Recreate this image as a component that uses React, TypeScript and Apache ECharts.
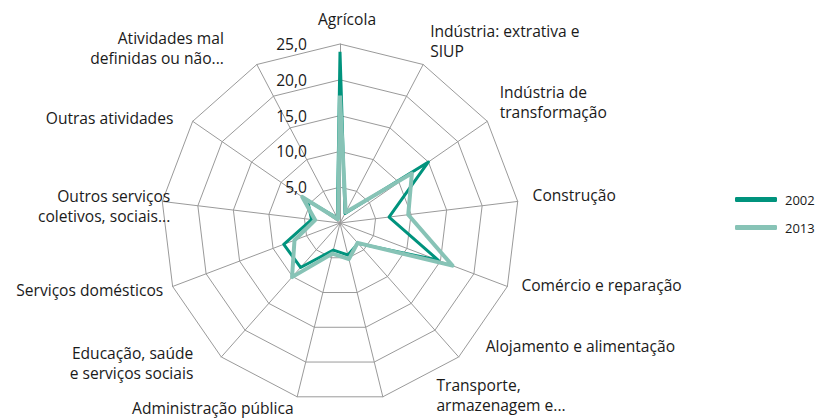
import React, { useEffect, useRef } from "react";
import * as echarts from "echarts";

// Categories in clockwise order starting from the top
const categories = [
  "Agrícola",
  "Indústria: extrativa e\nSIUP",
  "Indústria de\ntransformação",
  "Construção",
  "Comércio e reparação",
  "Alojamento e alimentação",
  "Transporte,\narmazenagem e...",
  "Administração pública",
  "Educação, saúde\ne serviços sociais",
  "Serviços domésticos",
  "Outros serviços\ncoletivos, sociais...",
  "Outras atividades",
  "Atividades mal\ndefinidas ou não...",
];

const seriesNames = ["2002", "2013"];
const values2002 = [23.9, 1.5, 15.0, 6.9, 14.7, 3.8, 4.6, 3.9, 8.3, 8.4, 4.0, 5.5, 0.8];
const values2013 = [17.8, 1.7, 12.2, 9.6, 16.8, 3.7, 5.2, 4.4, 10.1, 6.8, 3.5, 6.4, 0.6];

const axisMin = 0;
const axisMax = 25;
const axisSplits = 5;

// label placement tweaks (style only)
const nameGaps = [15, 15, 15, 15, 15, 15, 15, 15, 15, 10, -8, 15, 15];
const nameVAligns = [
  undefined, "bottom", "bottom", "bottom", "bottom", "bottom", "bottom",
  "bottom", "bottom", undefined, "top", "top", "bottom",
];
const namePads: number[][] = [
  [0, 0, 0, 14],
  [0, 0, -10, 0],
  [0, 0, -9, 0],
  [0, 0, -5, 0],
  [0, 0, -3, 0],
  [0, 0, 12, 17],
  [0, 0, -4, 50],
  [0, 0, -7, 0],
  [0, 18, -15, 0],
  [0, 0, 0, 0],
  [-16, 0, 0, 0],
  [-5, 7, 0, 0],
  [0, 26, -17, 0],
];

const DARK = "#00937d";
const LIGHT = "#87c3b6";
const GRID = "#9a9a9a";
const TEXT = "#1a1a1a";
const FONT = "'Open Sans', sans-serif";
const FS = 15.6;

// ECharts places radar indicators counter-clockwise; reorder to get clockwise
function ccw<T>(arr: T[]): T[] {
  return [arr[0], ...arr.slice(1).reverse()];
}

export default function App() {
  const ref = useRef<HTMLDivElement>(null);

  useEffect(() => {
    if (!ref.current) return;
    const chart = echarts.init(ref.current, undefined, { renderer: "svg" });

    const indicators = ccw(
      categories.map((name, i) => {
        const nts: any = { padding: namePads[i] };
        if (nameVAligns[i]) nts.verticalAlign = nameVAligns[i];
        return {
          name,
          min: axisMin,
          max: axisMax,
          nameGap: nameGaps[i],
          nameTextStyle: nts,
          axisLabel: { show: i === 0 },
        };
      })
    );

    chart.setOption({
      animation: false,
      backgroundColor: "#ffffff",
      legend: {
        data: seriesNames,
        orient: "vertical",
        left: 735,
        top: 193,
        padding: 0,
        icon: "roundRect",
        itemWidth: 42,
        itemHeight: 5,
        itemGap: 15,
        textStyle: { fontSize: 13, color: TEXT, fontFamily: FONT, padding: [0, 0, 0, 3] },
      },
      radar: {
        center: [340, 223],
        radius: 179,
        startAngle: 90,
        shape: "polygon",
        splitNumber: axisSplits,
        indicator: indicators,
        axisName: {
          color: TEXT,
          fontSize: FS,
          fontFamily: FONT,
          lineHeight: 20,
        },
        axisLine: { show: true, lineStyle: { color: GRID, width: 1 } },
        splitLine: { show: true, lineStyle: { color: GRID, width: 1 } },
        splitArea: { show: false },
        axisTick: { show: false },
        axisLabel: {
          show: false,
          fontSize: FS,
          color: TEXT,
          fontFamily: FONT,
          margin: 33,
          formatter: (v: number) => (v === 0 ? "" : v.toFixed(1).replace(".", ",")),
        },
      },
      series: [
        {
          type: "radar",
          symbol: "none",
          data: [
            {
              name: seriesNames[0],
              value: ccw(values2002),
              lineStyle: { color: DARK, width: 3 },
              itemStyle: { color: DARK },
            },
            {
              name: seriesNames[1],
              value: ccw(values2013),
              lineStyle: { color: LIGHT, width: 4 },
              itemStyle: { color: LIGHT },
            },
          ],
        },
      ],
    });

    return () => chart.dispose();
  }, []);

  return (
    <div
      ref={ref}
      style={{ position: "fixed", left: 0, top: 0, width: 821, height: 419, background: "#fff" }}
    />
  );
}
